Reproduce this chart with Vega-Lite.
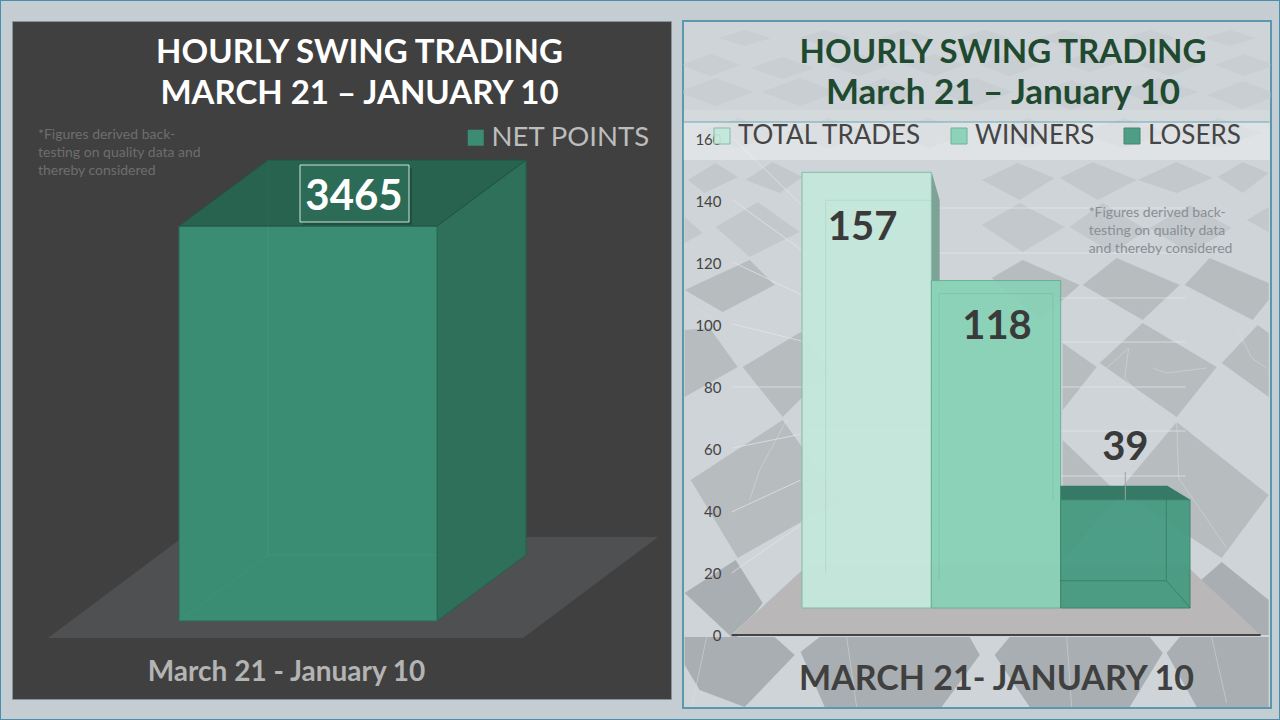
{
  "$schema": "https://vega.github.io/schema/vega-lite/v6.json",
  "background": "#c4cdd2",
  "padding": {"left": -1, "top": -1, "right": -1, "bottom": -1},
  "spacing": 12,
  "bounds": "flush",
  "config": {"font": "Lato", "legend": {"zindex": 2}},
  "resolve": {"scale": {"color": "independent", "stroke": "independent"}, "legend": {"color": "independent"}},
  "hconcat": [
    {
      "width": 659,
      "height": 678,
      "view": {"fill": "#404040", "stroke": "#86949a", "strokeWidth": 1},
      "title": {
        "text": ["HOURLY SWING TRADING", "MARCH 21 – JANUARY 10"],
        "font": "Lato",
        "fontSize": 33,
        "fontWeight": "bold",
        "color": "#ffffff",
        "lineHeight": 41,
        "anchor": "middle",
        "dx": 18,
        "offset": -111
      },
      "data": {"values": [{"category": "NET POINTS", "value": 3465}]},
      "encoding": {
        "x": {
          "field": "category",
          "type": "nominal",
          "scale": {"domain": ["NET POINTS"], "range": [167, 425], "paddingInner": 0, "paddingOuter": 0},
          "axis": {
            "title": "March 21 - January 10",
            "labels": false,
            "ticks": false,
            "domain": false,
            "titleFont": "Lato",
            "titleFontSize": 28,
            "titleFontWeight": "bold",
            "titleColor": "#b4b4b4",
            "titleX": 274,
            "titleY": -19,
            "titleAlign": "center",
            "titleBaseline": "alphabetic"
          }
        }
      },
      "layer": [
        {
          "encoding": {"y": {"datum": 0, "type": "quantitative", "scale": {"domain": [0, 3465], "range": [600, 205]}, "axis": null}},
          "layer": [
            {"mark": {"type": "point", "shape": "M-308,-621H972V99H-308ZM-307,-620V98H971V-620Z", "size": 4, "filled": true, "fill": "#4690ad", "strokeWidth": 0, "opacity": 1}},
            {"mark": {"type": "point", "shape": "M-260,17L215,17L350,-84L-125,-84Z", "size": 4, "filled": true, "fill": "#4f5052", "strokeWidth": 0, "opacity": 1}},
            {"mark": {"type": "point", "shape": "M129,0L218,-66L218,-461L129,-395Z", "size": 4, "filled": true, "fill": "#2e7059", "stroke": "#24604c", "strokeWidth": 1, "opacity": 1}}
          ]
        },
        {
          "mark": {"type": "bar", "stroke": "#2a6b55", "strokeWidth": 1, "opacity": 1},
          "encoding": {
            "y": {"field": "value", "type": "quantitative", "scale": {"domain": [0, 3465], "range": [600, 205]}, "axis": null},
            "color": {
              "field": "category",
              "type": "nominal",
              "scale": {"domain": ["NET POINTS"], "range": ["#3a8d73"]},
              "legend": {
                "orient": "none",
                "legendX": 450,
                "legendY": 103,
                "title": null,
                "padding": 0,
                "symbolType": "square",
                "symbolSize": 256,
                "symbolStrokeWidth": 0,
                "labelFont": "Lato",
                "labelFontSize": 27.5,
                "labelColor": "#bdbdbd",
                "labelOffset": 2,
                "labelLimit": 400
              }
            }
          }
        },
        {
          "encoding": {"y": {"field": "value", "type": "quantitative", "scale": {"domain": [0, 3465], "range": [600, 205]}, "axis": null}},
          "layer": [
            {"mark": {"type": "point", "shape": "M-129,0L-40,-66L218,-66L129,0Z", "size": 4, "filled": true, "fill": "#27634f", "stroke": "#205443", "strokeWidth": 1, "opacity": 1}},
            {"mark": {"type": "point", "shape": "M-40,-66V329M-40,329H129M-40,329L-129,395", "size": 4, "filled": false, "stroke": "#ffffff", "strokeWidth": 1, "opacity": 0.03}},
            {"mark": {"type": "point", "shape": "M-5,-58H104V-1H-5Z", "size": 4, "filled": true, "fill": "#000000", "strokeWidth": 0, "opacity": 0.18}},
            {"mark": {"type": "point", "shape": "M-8,-61H101V-4H-8Z", "size": 4, "filled": true, "fill": "#2c6c57", "stroke": "#cfe3da", "strokeWidth": 1, "opacity": 1}},
            {
              "mark": {"type": "text", "font": "Lato", "fontSize": 42, "fontWeight": "bold", "color": "#ffffff", "align": "center", "baseline": "middle", "dx": 46, "dy": -29},
              "encoding": {"text": {"field": "value", "type": "quantitative", "format": "d"}}
            }
          ]
        },
        {
          "data": {"values": [{"category": "NET POINTS", "note": "*Figures derived back-\ntesting on quality data  and\nthereby considered"}]},
          "mark": {"type": "text", "font": "Lato", "fontSize": 14, "color": "#6e6e6e", "align": "left", "baseline": "top", "lineBreak": "\n", "lineHeight": 18, "dx": -270, "dy": -493},
          "encoding": {
            "y": {"datum": 0, "type": "quantitative", "scale": {"domain": [0, 3465], "range": [600, 205]}, "axis": null},
            "text": {"field": "note"}
          }
        }
      ]
    },
    {
      "width": 588,
      "height": 687,
      "view": {"fill": "#ced4d8", "stroke": "#5b97ae", "strokeWidth": 2},
      "title": {
        "text": "HOURLY SWING TRADING",
        "subtitle": "March 21 – January 10",
        "font": "Lato",
        "fontSize": 33,
        "fontWeight": "bold",
        "color": "#1f4a30",
        "subtitleFont": "Lato",
        "subtitleFontSize": 35,
        "subtitleFontWeight": "bold",
        "subtitleColor": "#1f4a30",
        "subtitlePadding": 6,
        "anchor": "middle",
        "dx": 26,
        "offset": -90
      },
      "data": {
        "values": [
          {"category": "TOTAL TRADES", "value": 157},
          {"category": "WINNERS", "value": 118},
          {"category": "LOSERS", "value": 39}
        ]
      },
      "encoding": {
        "x": {
          "field": "category",
          "type": "nominal",
          "scale": {"domain": ["TOTAL TRADES", "WINNERS", "LOSERS"], "range": [119, 507], "paddingInner": 0, "paddingOuter": 0},
          "axis": {
            "title": "MARCH 21- JANUARY 10",
            "labels": false,
            "ticks": false,
            "domain": false,
            "titleFont": "Lato",
            "titleFontSize": 34,
            "titleFontWeight": "bold",
            "titleColor": "#404040",
            "titleX": 313,
            "titleY": -19,
            "titleAlign": "center",
            "titleBaseline": "alphabetic",
            "zindex": 1
          }
        }
      },
      "resolve": {"scale": {"y": "independent"}, "axis": {"y": "independent"}},
      "layer": [
        {
          "mark": {"type": "point", "opacity": 0},
          "encoding": {
            "y": {
              "field": "value",
              "type": "quantitative",
              "scale": {"domain": [0, 160], "range": [614, 118]},
              "axis": {
                "title": null,
                "values": [0, 20, 40, 60, 80, 100, 120, 140, 160],
                "offset": -42,
                "labelPadding": 4,
                "ticks": false,
                "domain": false,
                "grid": false,
                "labelFont": "Lato",
                "labelFontSize": 15,
                "labelColor": "#444444",
                "labelOpacity": {"expr": "datum.value == 160 ? 0.45 : 1"},
                "zindex": 1
              }
            }
          }
        },
        {
          "layer": [
            {
              "transform": [{"filter": "datum.category == 'TOTAL TRADES'"}],
              "encoding": {"y": {"datum": 0, "type": "quantitative", "scale": {"domain": [0, 160], "range": [587, 143]}, "axis": null}},
              "layer": [
                {"mark": {"type": "point", "clip": true, "size": 4, "filled": true, "fill": "#bcc2c6", "strokeWidth": 0, "opacity": 0.35, "shape": "M-186,-543l30,-11l30,11l-30,11zM-116,-540l32,-11l32,11l-32,11zM-37,-543l30,-11l30,11l-30,11zM38,-543l30,-11l30,11l-30,11zM113,-543l30,-11l30,11l-30,11zM193,-546l30,-10l30,10l-30,10zM273,-543l30,-11l30,11l-30,11zM348,-543l30,-11l30,11l-30,11zM-189,-516l38,-14l38,14l-38,14zM-105,-516l38,-14l38,14l-38,14zM-20,-516l38,-14l38,14l-38,14zM70,-516l38,-14l38,14l-38,14zM165,-513l40,-15l40,15l-40,15zM255,-516l38,-14l38,14l-38,14zM340,-513l36,-14l36,14l-36,14zM-148,-570l26,-8l26,8l-26,8zM-68,-570l26,-8l26,8l-26,8zM12,-570l26,-8l26,8l-26,8zM92,-570l26,-8l26,8l-26,8zM172,-570l26,-8l26,8l-26,8zM257,-570l26,-8l26,8l-26,8zM337,-570l26,-8l26,8l-26,8zM-170,-475l42,-15l42,15l-42,15zM-80,-475l42,-15l42,15l-42,15zM20,-475l42,-15l42,15l-42,15zM120,-475l42,-15l42,15l-42,15zM215,-475l42,-15l42,15l-42,15zM310,-475l42,-15l42,15l-42,15z"}},
                {"mark": {"type": "point", "clip": true, "size": 4, "filled": true, "fill": "#c3c8cc", "strokeWidth": 0, "opacity": 1, "shape": "M-179,-428L-151,-445L-129,-431L-162,-415ZM-121,-428L-94,-446L-64,-431L-87,-415ZM-182,-391L-164,-375L-182,-365ZM-151,-381L-109,-406L-67,-376L-117,-351ZM115,-428L151,-445L188,-430L153,-408ZM193,-430L226,-446L270,-428L231,-408ZM271,-428L310,-446L346,-430L310,-415ZM351,-431L376,-446L402,-435L376,-415ZM115,-383L153,-405L198,-381L156,-356ZM203,-381L236,-405L280,-378L246,-355ZM283,-380L323,-403L365,-380L323,-355ZM380,-388L402,-401L402,-376Z"}},
                {"mark": {"type": "point", "clip": true, "size": 4, "filled": true, "fill": "#b7bcbf", "strokeWidth": 0, "opacity": 1, "shape": "M-182,-318L-117,-348L-92,-323L-144,-296ZM-182,-278L-157,-280L-129,-241L-182,-211ZM-124,-241L-66,-276L-37,-238L-84,-191ZM-84,-188L-176,-128L-129,-50L-27,-108ZM216,-323L250,-350L313,-323L276,-288ZM125,-330L156,-348L213,-323L173,-288ZM318,-323L343,-350L402,-325L402,-308L386,-288ZM276,-285L350,-241L310,-191L233,-245ZM196,-265L230,-241L196,-198ZM391,-283L402,-275L402,-211L355,-245ZM310,-186L402,-113L355,-50L253,-118ZM196,-168L253,-113L196,-48Z"}},
                {"mark": {"type": "point", "clip": true, "size": 4, "filled": true, "fill": "#a8aeb1", "strokeWidth": 0, "opacity": 1, "shape": "M355,-46L402,-8L402,27L333,27L323,-18ZM-131,-48L-104,-5L-132,32L-182,-15ZM-182,29L-92,29L-72,47L-122,99L-167,82L-182,57ZM-66,44L-47,29L103,29L113,47L75,99L-42,99ZM128,47L143,29L283,29L296,45L263,99L163,99ZM300,45L313,29L402,29L402,99L330,99Z"}},
                {"mark": {"type": "point", "clip": true, "size": 4, "filled": false, "stroke": "#dfe3e5", "strokeWidth": 1, "opacity": 0.45, "shape": "M-80,-188L-107,-138L-117,-108M286,-240L300,-235L340,-240M240,-240L262,-260L258,-230L280,-205M370,-280L385,-250L400,-240M310,-186L312,-130L360,-60M-170,-300L-155,-290M-160,29L-175,99M-20,29L-10,99M200,29L205,99M345,29L360,95"}},
                {"mark": {"type": "point", "clip": true, "size": 4, "filled": false, "stroke": "#e6e9eb", "strokeWidth": 1, "opacity": 0.7, "shape": "M-134,-470L-65,-403M-134,-408L-65,-358M-134,-346L-65,-313M-134,-284L-65,-267M-134,-221L-65,-221M-134,-160L-65,-174M-135,-96L-66,-128M-135,-35L-66,-83M-135,27L-65,-37M-65,-400H319M-65,-355H319M-65,-310H319M-65,-266H319M-65,-221H319M-65,-177H319M-65,-132H319M-65,-88H319"}},
                {"mark": {"type": "point", "clip": true, "size": 4, "filled": true, "fill": "#b9b7b7", "strokeWidth": 0, "opacity": 1, "shape": "M-135,27L394,27L319,-43L-59,-43Z"}},
                {"mark": {"type": "point", "clip": true, "size": 4, "filled": false, "stroke": "#444444", "strokeWidth": 2, "opacity": 1, "shape": "M-135,27H394"}},
                {"mark": {"type": "point", "clip": true, "size": 4, "filled": true, "fill": "#ffffff", "strokeWidth": 0, "opacity": 0.12, "shape": "M-183,-498H403V-486H-183Z"}},
                {"mark": {"type": "point", "clip": true, "size": 4, "filled": true, "fill": "#ffffff", "strokeWidth": 0, "opacity": 0.35, "shape": "M-183,-486H403V-448H-183Z"}},
                {"mark": {"type": "point", "clip": true, "size": 4, "filled": false, "stroke": "#6ea5b8", "strokeWidth": 1, "opacity": 1, "shape": "M-183,-486H403"}}
              ]
            },
            {
              "transform": [{"filter": "datum.category == 'TOTAL TRADES'"}],
              "mark": {"type": "point", "size": 4, "filled": true, "fill": "#6f9a8b", "strokeWidth": 0, "opacity": 0.85, "shape": "M65,0L73,28L73,109L65,109Z"},
              "encoding": {"y": {"field": "value", "type": "quantitative", "scale": {"domain": [0, 160], "range": [587, 143]}, "axis": null}}
            },
            {
              "mark": {"type": "bar", "strokeWidth": 1, "opacity": 0.93},
              "encoding": {
                "y": {"field": "value", "type": "quantitative", "scale": {"domain": [0, 160], "range": [587, 143]}, "axis": null},
                "stroke": {
                  "field": "category",
                  "type": "nominal",
                  "scale": {"domain": ["TOTAL TRADES", "WINNERS", "LOSERS"], "range": ["#7dbba4", "#63b096", "#3a7f69"]},
                  "legend": null
                },
                "color": {
                  "field": "category",
                  "type": "nominal",
                  "scale": {"domain": ["TOTAL TRADES", "WINNERS", "LOSERS"], "range": ["#c5e9dc", "#88d2b6", "#449a80"]},
                  "legend": {
                    "orient": "none",
                    "legendX": 26,
                    "legendY": 102,
                    "direction": "horizontal",
                    "columns": 3,
                    "columnPadding": 24,
                    "title": null,
                    "padding": 0,
                    "symbolType": "square",
                    "symbolSize": 256,
                    "symbolStrokeColor": "#5f9f88",
                    "symbolStrokeWidth": 1,
                    "labelFont": "Lato",
                    "labelFontSize": 26,
                    "labelColor": "#454545",
                    "labelOffset": 3,
                    "labelLimit": 400
                  }
                }
              }
            },
            {
              "encoding": {"y": {"field": "value", "type": "quantitative", "scale": {"domain": [0, 160], "range": [587, 143]}, "axis": null}},
              "layer": [
                {
                  "transform": [{"filter": "datum.category == 'TOTAL TRADES'"}],
                  "mark": {"type": "point", "size": 4, "filled": false, "stroke": "#7dbba4", "strokeWidth": 1, "opacity": 0.25, "shape": "M-41,28H65M-41,28V400"}
                },
                {
                  "transform": [{"filter": "datum.category == 'WINNERS'"}],
                  "mark": {"type": "point", "size": 4, "filled": false, "stroke": "#63b096", "strokeWidth": 1, "opacity": 0.35, "shape": "M-57,13H57M-57,13V300M57,13V220"}
                },
                {
                  "transform": [{"filter": "datum.category == 'LOSERS'"}],
                  "layer": [
                    {"mark": {"type": "point", "size": 4, "filled": false, "stroke": "#2f6f5b", "strokeWidth": 1, "opacity": 0.6, "shape": "M41,-13V81H-65M41,81L65,108"}},
                    {"mark": {"type": "point", "size": 4, "filled": true, "fill": "#357a64", "strokeWidth": 0, "opacity": 1, "shape": "M-65,0L-65,-14L42,-14L65,0Z"}},
                    {"mark": {"type": "point", "size": 4, "filled": false, "stroke": "#9aa5a5", "strokeWidth": 1, "opacity": 1, "shape": "M0,0L0,-28"}},
                    {
                      "mark": {"type": "text", "font": "Lato", "fontSize": 40, "fontWeight": "bold", "color": "#3a3a3a", "align": "center", "baseline": "middle", "dy": -52},
                      "encoding": {"text": {"field": "value", "type": "quantitative"}}
                    }
                  ]
                },
                {
                  "transform": [{"filter": "datum.category == 'TOTAL TRADES'"}],
                  "mark": {"type": "text", "font": "Lato", "fontSize": 40, "fontWeight": "bold", "color": "#3a3a3a", "align": "center", "baseline": "middle", "dx": -4, "dy": 56},
                  "encoding": {"text": {"field": "value", "type": "quantitative"}}
                },
                {
                  "transform": [{"filter": "datum.category == 'WINNERS'"}],
                  "mark": {"type": "text", "font": "Lato", "fontSize": 40, "fontWeight": "bold", "color": "#3a3a3a", "align": "center", "baseline": "middle", "dx": 1, "dy": 46},
                  "encoding": {"text": {"field": "value", "type": "quantitative"}}
                }
              ]
            },
            {
              "data": {"values": [{"category": "TOTAL TRADES", "note": "*Figures derived back-\ntesting on quality data\nand thereby considered"}]},
              "mark": {"type": "text", "font": "Lato", "fontSize": 14, "color": "#8a8f93", "align": "left", "baseline": "top", "lineBreak": "\n", "lineHeight": 18, "dx": 222, "dy": -402},
              "encoding": {
                "y": {"datum": 0, "type": "quantitative", "scale": {"domain": [0, 160], "range": [587, 143]}, "axis": null},
                "text": {"field": "note"}
              }
            }
          ]
        }
      ]
    }
  ]
}
